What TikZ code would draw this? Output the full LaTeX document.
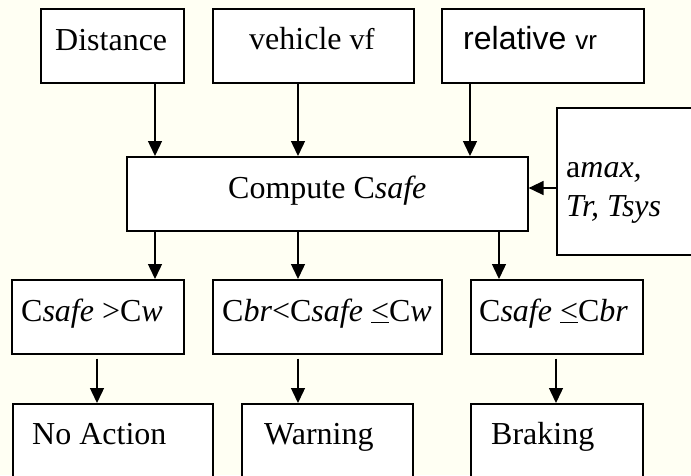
\documentclass[tikz,border=0pt]{standalone}
\usepackage{fontspec}
\setmainfont{Liberation Serif}
\newfontfamily\arialfont{Liberation Sans}
\usetikzlibrary{arrows.meta}
\definecolor{paper}{RGB}{255,255,243}
\begin{document}
\begin{tikzpicture}[x=1pt,y=-1pt,
  box/.style={draw, line width=1.6pt, fill=white, inner sep=0pt, anchor=north west},
  txt/.style={anchor=base west, inner sep=0pt, font=\fontsize{32}{38}\selectfont},
  arr/.style={line width=1.4pt, -{Triangle[length=15pt,width=14pt]}},
  gap/.style={shorten <=4pt},
]
% page and background
\useasboundingbox (0,0) rectangle (691,475);
\fill[paper] (0,0) rectangle (691,475);
\clip (0,0) rectangle (691,475);

% input row
\node[box, minimum width=143pt, minimum height=74pt] (dist) at (40,8) {};
\node[box, minimum width=201pt, minimum height=74pt] (veh)  at (212,8) {};
\node[box, minimum width=202pt, minimum height=74pt] (rel)  at (441,8) {};
\node[txt] (dist-t) at ([shift={(15,42)}]dist.north west) {Distance};
\node[txt] (veh-t)  at ([shift={(37,41)}]veh.north west) {vehicle {\fontsize{30}{34}\selectfont vf}};
\node[txt] (rel-t)  at ([shift={(22,41)}]rel.north west) {\arialfont relative {\fontsize{26}{30}\selectfont vr}};

% computation and its parameters (the parameter box runs off the right edge)
\node[box, minimum width=401pt, minimum height=74pt] (comp)  at (126,156) {};
\node[box, minimum width=300pt, minimum height=147pt] (param) at (556,107) {};
\node[txt, anchor=base] (comp-t) at ([shift={(0,42)}]comp.north) {Compute C\textit{safe}};
\node[txt] (param-t1) at ([shift={(10,70)}]param.north west) {a\textit{max,}};
\node[txt] (param-t2) at ([shift={(10,109)}]param.north west) {\textit{Tr, Tsys}};

% decision row
\node[box, minimum width=172pt, minimum height=74pt] (dfar)  at (11,279) {};
\node[box, minimum width=229pt, minimum height=74pt] (dmid)  at (212,279) {};
\node[box, minimum width=172pt, minimum height=74pt] (dnear) at (470,279) {};
\node[txt] (dfar-t)  at ([shift={(10,42)}]dfar.north west) {C\textit{safe} >C\textit{w}};
\node[txt] (dmid-t)  at ([shift={(10,42)}]dmid.north west) {C\textit{br}<C\textit{safe} \underline{<}C\textit{w}};
\node[txt] (dnear-t) at ([shift={(9,42)}]dnear.north west) {C\textit{safe} \underline{<}C\textit{br}};

% action row (boxes run off the bottom edge)
\node[box, minimum width=200pt, minimum height=90pt] (none)  at (12,403) {};
\node[box, minimum width=171pt, minimum height=90pt] (warn)  at (241,403) {};
\node[box, minimum width=172pt, minimum height=90pt] (brake) at (470,403) {};
\node[txt] (none-t)  at ([shift={(20,41)}]none.north west) {No Action};
\node[txt] (warn-t)  at ([shift={(23,41)}]warn.north west) {Warning};
\node[txt] (brake-t) at ([shift={(21,41)}]brake.north west) {Braking};

% connector columns
\coordinate (xa) at (155,0);
\coordinate (xb) at (298,0);
\coordinate (xc) at (470,0);
\coordinate (xd) at (499,0);
\coordinate (xe) at (97,0);
\coordinate (xf) at (556,0);
\coordinate (ya) at (0,188);

% inputs into the computation
\draw[arr] (dist.south -| xa) -- (comp.north -| xa);
\draw[arr] (veh.south -| xb) -- (comp.north -| xb);
\draw[arr] (rel.south -| xc) -- (comp.north -| xc);
\draw[arr] (param.west |- ya) -- (comp.east |- ya);

% computation to decisions
\draw[arr] (comp.south -| xa) -- (dfar.north -| xa);
\draw[arr] (comp.south -| xb) -- (dmid.north -| xb);
\draw[arr] (comp.south -| xd) -- (dnear.north -| xd);

% decisions to actions
\draw[arr, gap] (dfar.south -| xe) -- (none.north -| xe);
\draw[arr, gap] (dmid.south -| xb) -- (warn.north -| xb);
\draw[arr, gap] (dnear.south -| xf) -- (brake.north -| xf);
\end{tikzpicture}
\end{document}
